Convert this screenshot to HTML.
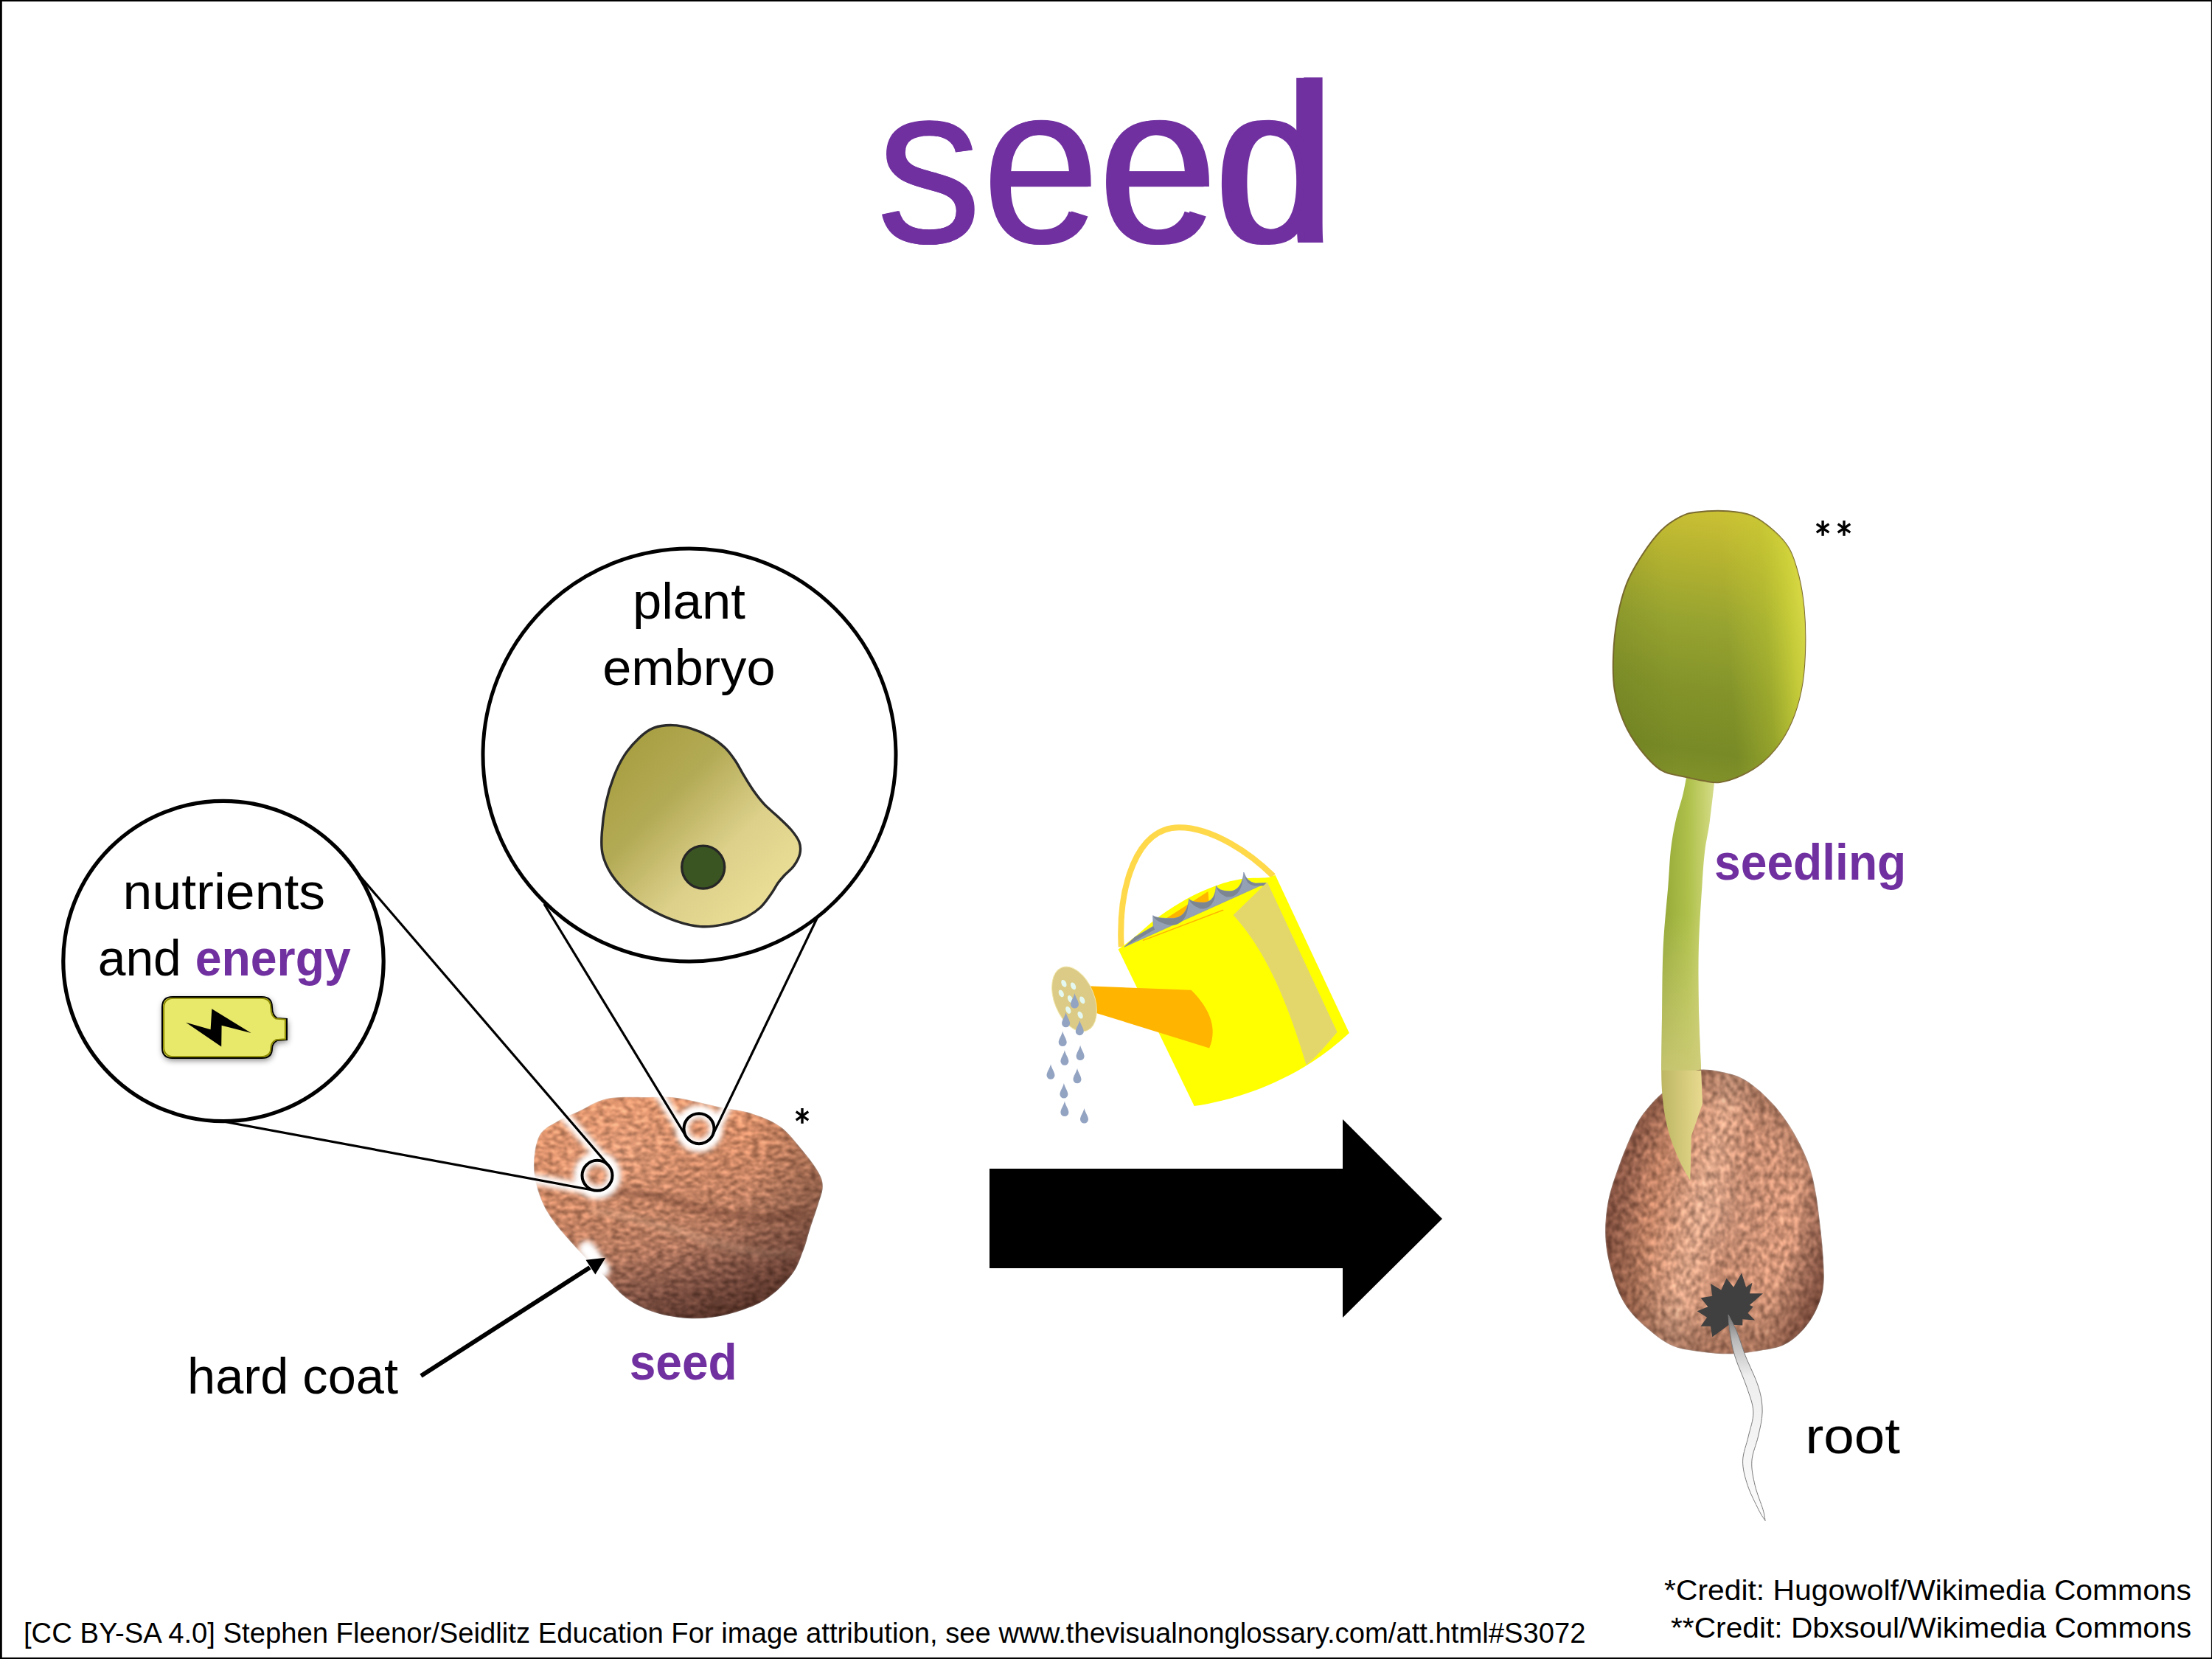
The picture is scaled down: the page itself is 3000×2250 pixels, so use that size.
<!DOCTYPE html>
<html><head><meta charset="utf-8"><title>seed</title>
<style>
html,body{margin:0;padding:0;background:#fff;width:3000px;height:2250px;overflow:hidden}
svg{display:block}
text{font-family:"Liberation Sans",sans-serif}
</style></head><body>
<svg width="3000" height="2250" viewBox="0 0 3000 2250">
<defs>
  <linearGradient id="embG" x1="0" y1="0" x2="1" y2="1">
    <stop offset="0" stop-color="#A39A3A"/>
    <stop offset="0.35" stop-color="#B3AA55"/>
    <stop offset="0.62" stop-color="#DCD08A"/>
    <stop offset="1" stop-color="#F3E59D"/>
  </linearGradient>
  <linearGradient id="seed1G" x1="0.25" y1="0" x2="0.6" y2="1">
    <stop offset="0" stop-color="#D88C64"/>
    <stop offset="0.35" stop-color="#C07C5A"/>
    <stop offset="0.62" stop-color="#A86E54"/>
    <stop offset="0.85" stop-color="#885646"/>
    <stop offset="1" stop-color="#683E32"/>
  </linearGradient>
  <clipPath id="clipS1"><path d="M723.9,1581.4 C723.9,1567.8 726.2,1549.9 731.8,1539.6 C737.5,1529.3 749.1,1525.0 757.7,1519.7 C766.3,1514.4 772.6,1512.8 783.5,1507.8 C794.5,1502.8 807.4,1493.2 823.3,1489.9 C839.2,1486.6 863.1,1488.1 879.0,1487.9 C894.9,1487.7 902.2,1486.6 918.8,1488.9 C935.4,1491.2 961.9,1498.3 978.5,1501.8 C995.1,1505.3 1005.0,1505.5 1018.3,1509.8 C1031.5,1514.1 1046.5,1519.4 1058.1,1527.7 C1069.7,1536.0 1079.3,1549.2 1087.9,1559.5 C1096.5,1569.8 1105.1,1581.1 1109.8,1589.4 C1114.4,1597.6 1115.8,1602.0 1115.8,1609.2 C1115.8,1616.5 1112.8,1623.2 1109.8,1633.1 C1106.8,1643.1 1101.2,1658.6 1097.9,1668.9 C1094.5,1679.2 1093.9,1684.8 1089.9,1694.8 C1085.9,1704.7 1082.6,1717.3 1074.0,1728.6 C1065.4,1739.9 1052.4,1753.5 1038.2,1762.4 C1023.9,1771.4 1005.0,1778.0 988.4,1782.3 C971.9,1786.6 955.3,1788.6 938.7,1788.3 C922.1,1787.9 903.9,1785.0 889.0,1780.3 C874.1,1775.7 860.8,1768.7 849.2,1760.4 C837.6,1752.1 830.3,1741.5 819.4,1730.6 C808.4,1719.7 795.2,1707.4 783.5,1694.8 C771.9,1682.2 758.4,1667.3 749.7,1655.0 C741.1,1642.7 736.1,1633.5 731.8,1621.2 C727.5,1608.9 723.9,1595.0 723.9,1581.4 Z"/></clipPath>
  <filter id="blur4" x="-20%" y="-50%" width="140%" height="200%"><feGaussianBlur stdDeviation="4"/></filter>
  <linearGradient id="seed2G" x1="0" y1="0.3" x2="1" y2="0.6">
    <stop offset="0" stop-color="#865040"/>
    <stop offset="0.25" stop-color="#B07458"/>
    <stop offset="0.45" stop-color="#CC967A"/>
    <stop offset="0.6" stop-color="#B47C62"/>
    <stop offset="0.85" stop-color="#C4886C"/>
    <stop offset="1" stop-color="#9A6450"/>
  </linearGradient>
  <linearGradient id="stemV" gradientUnits="userSpaceOnUse" x1="0" y1="1240" x2="0" y2="1452">
    <stop offset="0" stop-color="#D8D488" stop-opacity="0"/>
    <stop offset="1" stop-color="#D4CC80" stop-opacity="0.75"/>
  </linearGradient>
  <radialGradient id="seed2V" cx="0.52" cy="0.5" r="0.62">
    <stop offset="0" stop-color="#fff" stop-opacity="0.06"/>
    <stop offset="0.55" stop-color="#000" stop-opacity="0"/>
    <stop offset="0.85" stop-color="#3a1a10" stop-opacity="0.32"/>
    <stop offset="1" stop-color="#2a1008" stop-opacity="0.62"/>
  </radialGradient>
  <linearGradient id="leafG" x1="0.5" y1="0" x2="0.4" y2="1">
    <stop offset="0" stop-color="#CAC034"/>
    <stop offset="0.18" stop-color="#B4B230"/>
    <stop offset="0.4" stop-color="#98A430"/>
    <stop offset="0.65" stop-color="#84942A"/>
    <stop offset="0.88" stop-color="#788A26"/>
    <stop offset="1" stop-color="#82922A"/>
  </linearGradient>
  <linearGradient id="leafH" x1="0" y1="0.55" x2="1" y2="0.45">
    <stop offset="0" stop-color="#4A5812" stop-opacity="0.15"/>
    <stop offset="0.3" stop-color="#4A5812" stop-opacity="0"/>
    <stop offset="0.6" stop-color="#C8D034" stop-opacity="0"/>
    <stop offset="0.8" stop-color="#C8D034" stop-opacity="0.35"/>
    <stop offset="0.93" stop-color="#D4D83C" stop-opacity="0.75"/>
    <stop offset="1" stop-color="#E0E048" stop-opacity="0.85"/>
  </linearGradient>
  <radialGradient id="seed1V" cx="0.3" cy="0.25" r="0.85">
    <stop offset="0" stop-color="#fff" stop-opacity="0.08"/>
    <stop offset="0.55" stop-color="#000" stop-opacity="0"/>
    <stop offset="1" stop-color="#2a1008" stop-opacity="0.4"/>
  </radialGradient>
  <linearGradient id="stemG" x1="0" y1="0" x2="1" y2="0">
    <stop offset="0" stop-color="#94A838"/>
    <stop offset="0.5" stop-color="#AEC04A"/>
    <stop offset="0.85" stop-color="#CAD474"/>
    <stop offset="1" stop-color="#D6DC8C"/>
  </linearGradient>
  <linearGradient id="lowG" x1="0" y1="0" x2="1" y2="0">
    <stop offset="0" stop-color="#BDB662"/>
    <stop offset="1" stop-color="#E8DA90"/>
  </linearGradient>
  <linearGradient id="rootG" x1="0" y1="0" x2="0" y2="1">
    <stop offset="0" stop-color="#707070"/>
    <stop offset="0.12" stop-color="#B8B8B8"/>
    <stop offset="0.3" stop-color="#EEEEEE"/>
    <stop offset="1" stop-color="#FCFCFC"/>
  </linearGradient>
  <filter id="tex1" x="0" y="0" width="100%" height="100%" color-interpolation-filters="sRGB">
    <feTurbulence type="fractalNoise" baseFrequency="0.1 0.17" numOctaves="3" seed="11" result="n"/>
    <feColorMatrix in="n" type="matrix" values="1 0 0 0 0  1 0 0 0 0  1 0 0 0 0  0 0 0 0 1" result="g"/>
    <feComponentTransfer in="g" result="g2"><feFuncR type="linear" slope="1.6" intercept="-0.3"/><feFuncG type="linear" slope="1.6" intercept="-0.3"/><feFuncB type="linear" slope="1.6" intercept="-0.3"/></feComponentTransfer>
    <feComposite in="SourceGraphic" in2="g2" operator="arithmetic" k1="0.5" k2="0.8" k3="0.1" k4="-0.02" result="m"/>
    <feGaussianBlur in="m" stdDeviation="1.1" result="mb"/>
    <feComposite in="mb" in2="SourceAlpha" operator="in"/>
  </filter>
  <filter id="tex2" x="0" y="0" width="100%" height="100%" color-interpolation-filters="sRGB">
    <feTurbulence type="fractalNoise" baseFrequency="0.15 0.1" numOctaves="3" seed="5" result="n"/>
    <feColorMatrix in="n" type="matrix" values="1 0 0 0 0  1 0 0 0 0  1 0 0 0 0  0 0 0 0 1" result="g"/>
    <feComponentTransfer in="g" result="g2"><feFuncR type="linear" slope="1.6" intercept="-0.3"/><feFuncG type="linear" slope="1.6" intercept="-0.3"/><feFuncB type="linear" slope="1.6" intercept="-0.3"/></feComponentTransfer>
    <feComposite in="SourceGraphic" in2="g2" operator="arithmetic" k1="0.5" k2="0.8" k3="0.1" k4="-0.02" result="m"/>
    <feGaussianBlur in="m" stdDeviation="1.1" result="mb"/>
    <feComposite in="mb" in2="SourceAlpha" operator="in"/>
  </filter>
  <filter id="glow" x="-20%" y="-20%" width="140%" height="140%"><feGaussianBlur stdDeviation="3.5"/></filter>
  <filter id="shadow" x="-30%" y="-50%" width="160%" height="200%"><feGaussianBlur stdDeviation="4"/></filter>
  <filter id="soft" x="-5%" y="-5%" width="110%" height="110%"><feGaussianBlur stdDeviation="0.7"/></filter>
</defs>
<rect x="0" y="0" width="3000" height="2250" fill="#fff"/>

<!-- TITLE -->
<text x="1190" y="329" font-size="308" fill="#7030A0" textLength="612" lengthAdjust="spacingAndGlyphs">seed</text>

<!-- BIG ARROW -->
<polygon points="1342,1585 1821,1585 1821,1518 1956,1653 1821,1787 1821,1720 1342,1720" fill="#000"/>

<!-- WATERING CAN -->
<g>
  <path d="M1520.7,1284.4 C1516.6,1203.1 1541.0,1121.7 1599.4,1122.2 C1644.1,1122.2 1695.7,1157.0 1726.9,1188.2" fill="none" stroke="#FFD94A" stroke-width="8"/>
  <path d="M1516.6,1287.2 L1729.6,1186.8 L1829.9,1401.1 C1766.2,1460.8 1684.8,1490.6 1619.7,1500.1 Z" fill="#FFFF00"/>
  <path d="M1516.2,1288.5 C1520.4,1285.2 1531.8,1276.4 1541.2,1268.8 C1550.6,1261.2 1560.3,1251.5 1572.4,1242.8 C1584.5,1234.1 1600.1,1224.1 1614.0,1216.8 C1627.8,1209.5 1643.4,1203.3 1655.6,1199.1 C1667.7,1195.0 1676.4,1193.3 1686.8,1191.8 C1697.2,1190.4 1711.2,1191.0 1718.0,1190.3 C1724.7,1189.6 1725.8,1188.1 1727.3,1187.7 L1718.0,1197.6 L1524.6,1284.4 Z" fill="#FFFF00"/>
  <path d="M1581.7,1245.4 L1638.4,1209.0 1639.5,1222.5 1603.6,1242.8 1582.8,1249.0 Z M1549.5,1275.0 L1658.7,1233.6 1659.7,1234.7 1550.6,1276.1 Z" fill="#FFB400"/>
  <path d="M1524.6,1284.4 L1539.1,1270.9 1564.1,1256.3 1563.6,1241.7 Q1568.2,1245.9 1591.1,1245.4 C1603.6,1244.9 1611.4,1234.5 1612.4,1218.9 Q1616.1,1224.1 1631.7,1224.1 C1644.1,1224.1 1648.8,1213.7 1649.3,1201.2 Q1652.5,1208.5 1667.0,1208.7 C1679.5,1209.0 1685.7,1197.0 1686.8,1183.0 Q1690.9,1196.0 1702.4,1197.9 L1717.4,1197.6 L1524.6,1284.4 Z" fill="#94A1B5" stroke="#7F8FB8" stroke-width="0.6"/>
  <path d="M1563.6,1241.7 L1564.5,1242.4 L1565.6,1243.0 L1567.0,1243.5 L1568.7,1244.0 L1570.6,1244.4 L1572.8,1244.7 L1575.2,1245.0 L1577.9,1245.2 L1580.8,1245.4 L1584.0,1245.4 L1587.4,1245.4 L1591.1,1245.4 L1594.1,1245.1 L1596.9,1244.3 L1599.6,1243.2 L1601.9,1241.7 L1604.1,1239.9 L1606.1,1237.8 L1607.8,1235.3 L1609.2,1232.6 L1610.4,1229.5 L1611.3,1226.2 L1612.0,1222.7 L1612.4,1218.9 L1611.4,1228.2 L1611.0,1232.0 L1610.3,1235.6 L1609.4,1238.9 L1608.2,1241.9 L1606.7,1244.7 L1605.0,1247.1 L1603.1,1249.3 L1600.9,1251.1 L1598.5,1252.6 L1595.9,1253.7 L1593.1,1254.4 L1590.1,1254.7 L1586.4,1254.8 L1583.0,1254.0 L1579.9,1253.1 L1577.1,1252.1 L1574.5,1251.0 L1572.2,1249.9 L1570.1,1248.7 L1568.3,1247.4 L1566.7,1246.1 L1565.4,1244.7 L1564.4,1243.3 L1563.6,1241.7 Z M1612.4,1218.9 L1613.1,1219.7 L1614.0,1220.5 L1615.0,1221.1 L1616.2,1221.8 L1617.5,1222.3 L1619.1,1222.8 L1620.7,1223.2 L1622.6,1223.5 L1624.6,1223.7 L1626.8,1223.9 L1629.1,1224.0 L1631.7,1224.1 L1634.6,1223.9 L1637.3,1223.2 L1639.6,1222.3 L1641.7,1220.9 L1643.5,1219.3 L1645.0,1217.3 L1646.3,1215.1 L1647.3,1212.7 L1648.1,1210.0 L1648.7,1207.2 L1649.1,1204.3 L1649.3,1201.2 L1648.3,1209.5 L1648.1,1212.6 L1647.7,1215.5 L1647.1,1218.4 L1646.3,1221.0 L1645.2,1223.4 L1643.9,1225.6 L1642.4,1227.6 L1640.6,1229.2 L1638.6,1230.6 L1636.2,1231.6 L1633.6,1232.2 L1630.6,1232.4 L1628.1,1232.4 L1625.8,1231.6 L1623.8,1230.6 L1621.8,1229.6 L1620.1,1228.5 L1618.5,1227.3 L1617.1,1226.1 L1615.8,1224.8 L1614.7,1223.4 L1613.8,1222.0 L1613.0,1220.5 L1612.4,1218.9 Z M1649.3,1201.2 L1649.9,1202.4 L1650.7,1203.4 L1651.6,1204.4 L1652.7,1205.3 L1653.9,1206.0 L1655.3,1206.7 L1656.9,1207.3 L1658.6,1207.8 L1660.4,1208.1 L1662.5,1208.4 L1664.7,1208.6 L1667.0,1208.7 L1670.0,1208.5 L1672.7,1207.9 L1675.2,1206.8 L1677.5,1205.3 L1679.4,1203.4 L1681.2,1201.2 L1682.7,1198.7 L1684.0,1196.0 L1685.0,1193.0 L1685.8,1189.8 L1686.4,1186.5 L1686.8,1183.0 L1685.7,1190.8 L1685.4,1194.3 L1684.8,1197.6 L1684.0,1200.8 L1682.9,1203.8 L1681.6,1206.5 L1680.1,1209.0 L1678.4,1211.2 L1676.4,1213.1 L1674.2,1214.6 L1671.7,1215.7 L1669.0,1216.3 L1666.0,1216.5 L1663.6,1216.4 L1661.5,1215.6 L1659.6,1214.6 L1657.8,1213.5 L1656.2,1212.3 L1654.7,1211.0 L1653.4,1209.6 L1652.3,1208.1 L1651.3,1206.5 L1650.5,1204.9 L1649.8,1203.1 L1649.3,1201.2 Z M1686.8,1183.0 L1687.5,1185.1 L1688.4,1187.0 L1689.3,1188.8 L1690.4,1190.4 L1691.5,1191.9 L1692.7,1193.2 L1694.1,1194.4 L1695.6,1195.4 L1697.1,1196.2 L1698.8,1196.9 L1700.5,1197.5 L1702.4,1197.9 L1717.4,1197.6 L1716.9,1201.2 L1701.8,1201.5 L1700.0,1201.1 L1698.2,1200.6 L1696.6,1199.9 L1695.0,1199.0 L1693.6,1198.0 L1692.2,1196.9 L1691.1,1195.0 L1690.0,1192.9 L1689.0,1190.6 L1688.2,1188.3 L1687.4,1185.7 L1686.8,1183.0 Z M1524.6,1284.4 L1539.1,1270.9 1564.1,1256.3 1566.2,1260.5 1541.2,1275.0 Z" fill="#7C8592"/>
  <path d="M1672.6,1241.0 L1718.7,1196.3 L1813.6,1399.7 C1798.7,1417.4 1785.2,1433.6 1771.6,1444.5 C1741.8,1344.1 1711.9,1284.4 1672.6,1241.0 Z" fill="#E3D76C"/>
  <path d="M1474.6,1337.3 L1615.6,1342.8 C1638.7,1365.8 1652.3,1392.9 1640.1,1421.4 L1486.8,1374.0 Z" fill="#FFB400"/>
  <ellipse cx="1457.0" cy="1355.0" rx="27" ry="46" transform="rotate(-22 1457.0 1355.0)" fill="#DCCB86" stroke="#F0E6A8" stroke-width="1"/>
  <g fill="#E4F8F2"><ellipse cx="1442.9" cy="1333.8" rx="3.2" ry="5.2" transform="rotate(-25 1442.9 1333.8)"/><ellipse cx="1455.6" cy="1337.3" rx="3.2" ry="5.2" transform="rotate(-25 1455.6 1337.3)"/><ellipse cx="1439.3" cy="1347.4" rx="3.2" ry="5.2" transform="rotate(-25 1439.3 1347.4)"/><ellipse cx="1451.5" cy="1355.0" rx="3.2" ry="5.2" transform="rotate(-25 1451.5 1355.0)"/><ellipse cx="1467.8" cy="1356.3" rx="3.2" ry="5.2" transform="rotate(-25 1467.8 1356.3)"/><ellipse cx="1448.8" cy="1369.9" rx="3.2" ry="5.2" transform="rotate(-25 1448.8 1369.9)"/><ellipse cx="1465.1" cy="1376.7" rx="3.2" ry="5.2" transform="rotate(-25 1465.1 1376.7)"/></g>
  <g fill="#93A3C2"><path d="M1457.5,1347.0 C1458.5,1352.0 1463.0,1358.0 1463.0,1362.0 A5.5,5.5 0 1 1 1452.0,1362.0 C1452.0,1358.0 1456.5,1352.0 1457.5,1347.0 Z"/><path d="M1445.6,1372.8 C1446.6,1377.8 1451.1,1383.8 1451.1,1387.8 A5.5,5.5 0 1 1 1440.1,1387.8 C1440.1,1383.8 1444.6,1377.8 1445.6,1372.8 Z"/><path d="M1464.3,1383.7 C1465.3,1388.7 1469.8,1394.7 1469.8,1398.7 A5.5,5.5 0 1 1 1458.8,1398.7 C1458.8,1394.7 1463.3,1388.7 1464.3,1383.7 Z"/><path d="M1441.2,1398.6 C1442.2,1403.6 1446.7,1409.6 1446.7,1413.6 A5.5,5.5 0 1 1 1435.7,1413.6 C1435.7,1409.6 1440.2,1403.6 1441.2,1398.6 Z"/><path d="M1465.1,1417.6 C1466.1,1422.6 1470.6,1428.6 1470.6,1432.6 A5.5,5.5 0 1 1 1459.6,1432.6 C1459.6,1428.6 1464.1,1422.6 1465.1,1417.6 Z"/><path d="M1443.9,1424.3 C1444.9,1429.3 1449.4,1435.3 1449.4,1439.3 A5.5,5.5 0 1 1 1438.4,1439.3 C1438.4,1435.3 1442.9,1429.3 1443.9,1424.3 Z"/><path d="M1425.0,1443.3 C1426.0,1448.3 1430.5,1454.3 1430.5,1458.3 A5.5,5.5 0 1 1 1419.5,1458.3 C1419.5,1454.3 1424.0,1448.3 1425.0,1443.3 Z"/><path d="M1461.0,1448.8 C1462.0,1453.8 1466.5,1459.8 1466.5,1463.8 A5.5,5.5 0 1 1 1455.5,1463.8 C1455.5,1459.8 1460.0,1453.8 1461.0,1448.8 Z"/><path d="M1442.9,1469.1 C1443.9,1474.1 1448.4,1480.1 1448.4,1484.1 A5.5,5.5 0 1 1 1437.4,1484.1 C1437.4,1480.1 1441.9,1474.1 1442.9,1469.1 Z"/><path d="M1443.9,1493.5 C1444.9,1498.5 1449.4,1504.5 1449.4,1508.5 A5.5,5.5 0 1 1 1438.4,1508.5 C1438.4,1504.5 1442.9,1498.5 1443.9,1493.5 Z"/><path d="M1470.5,1503.0 C1471.5,1508.0 1476.0,1514.0 1476.0,1518.0 A5.5,5.5 0 1 1 1465.0,1518.0 C1465.0,1514.0 1469.5,1508.0 1470.5,1503.0 Z"/></g>
</g>

<!-- SEED 1 -->
<g filter="url(#soft)">
  <path d="M723.9,1581.4 C723.9,1567.8 726.2,1549.9 731.8,1539.6 C737.5,1529.3 749.1,1525.0 757.7,1519.7 C766.3,1514.4 772.6,1512.8 783.5,1507.8 C794.5,1502.8 807.4,1493.2 823.3,1489.9 C839.2,1486.6 863.1,1488.1 879.0,1487.9 C894.9,1487.7 902.2,1486.6 918.8,1488.9 C935.4,1491.2 961.9,1498.3 978.5,1501.8 C995.1,1505.3 1005.0,1505.5 1018.3,1509.8 C1031.5,1514.1 1046.5,1519.4 1058.1,1527.7 C1069.7,1536.0 1079.3,1549.2 1087.9,1559.5 C1096.5,1569.8 1105.1,1581.1 1109.8,1589.4 C1114.4,1597.6 1115.8,1602.0 1115.8,1609.2 C1115.8,1616.5 1112.8,1623.2 1109.8,1633.1 C1106.8,1643.1 1101.2,1658.6 1097.9,1668.9 C1094.5,1679.2 1093.9,1684.8 1089.9,1694.8 C1085.9,1704.7 1082.6,1717.3 1074.0,1728.6 C1065.4,1739.9 1052.4,1753.5 1038.2,1762.4 C1023.9,1771.4 1005.0,1778.0 988.4,1782.3 C971.9,1786.6 955.3,1788.6 938.7,1788.3 C922.1,1787.9 903.9,1785.0 889.0,1780.3 C874.1,1775.7 860.8,1768.7 849.2,1760.4 C837.6,1752.1 830.3,1741.5 819.4,1730.6 C808.4,1719.7 795.2,1707.4 783.5,1694.8 C771.9,1682.2 758.4,1667.3 749.7,1655.0 C741.1,1642.7 736.1,1633.5 731.8,1621.2 C727.5,1608.9 723.9,1595.0 723.9,1581.4 Z" fill="url(#seed1G)" filter="url(#tex1)"/>
  <g clip-path="url(#clipS1)">
    <path d="M812,1618 C850,1615 900,1622 930,1634 C975,1650 1030,1655 1090,1646" fill="none" stroke="#5A2E20" stroke-width="9" opacity="0.45" filter="url(#blur4)"/>
    <path d="M800,1640 C850,1650 900,1662 940,1676 C980,1690 1030,1705 1080,1700" fill="none" stroke="#F4D0B0" stroke-width="10" opacity="0.2" filter="url(#blur4)"/>
  </g>
  <path d="M723.9,1581.4 C723.9,1567.8 726.2,1549.9 731.8,1539.6 C737.5,1529.3 749.1,1525.0 757.7,1519.7 C766.3,1514.4 772.6,1512.8 783.5,1507.8 C794.5,1502.8 807.4,1493.2 823.3,1489.9 C839.2,1486.6 863.1,1488.1 879.0,1487.9 C894.9,1487.7 902.2,1486.6 918.8,1488.9 C935.4,1491.2 961.9,1498.3 978.5,1501.8 C995.1,1505.3 1005.0,1505.5 1018.3,1509.8 C1031.5,1514.1 1046.5,1519.4 1058.1,1527.7 C1069.7,1536.0 1079.3,1549.2 1087.9,1559.5 C1096.5,1569.8 1105.1,1581.1 1109.8,1589.4 C1114.4,1597.6 1115.8,1602.0 1115.8,1609.2 C1115.8,1616.5 1112.8,1623.2 1109.8,1633.1 C1106.8,1643.1 1101.2,1658.6 1097.9,1668.9 C1094.5,1679.2 1093.9,1684.8 1089.9,1694.8 C1085.9,1704.7 1082.6,1717.3 1074.0,1728.6 C1065.4,1739.9 1052.4,1753.5 1038.2,1762.4 C1023.9,1771.4 1005.0,1778.0 988.4,1782.3 C971.9,1786.6 955.3,1788.6 938.7,1788.3 C922.1,1787.9 903.9,1785.0 889.0,1780.3 C874.1,1775.7 860.8,1768.7 849.2,1760.4 C837.6,1752.1 830.3,1741.5 819.4,1730.6 C808.4,1719.7 795.2,1707.4 783.5,1694.8 C771.9,1682.2 758.4,1667.3 749.7,1655.0 C741.1,1642.7 736.1,1633.5 731.8,1621.2 C727.5,1608.9 723.9,1595.0 723.9,1581.4 Z" fill="url(#seed1V)"/>
</g>

<!-- SEEDLING -->
<path d="M2287.3,1052.9 C2286.5,1057.0 2284.9,1067.5 2282.4,1077.7 C2279.9,1087.9 2275.2,1101.5 2272.4,1114.2 C2269.6,1126.9 2267.5,1139.7 2265.8,1154.0 C2264.2,1168.3 2264.2,1178.6 2262.5,1200.0 C2260.8,1221.4 2257.2,1255.0 2255.8,1282.6 C2254.4,1310.2 2254.6,1337.3 2254.2,1365.5 C2253.8,1393.7 2253.4,1437.6 2253.2,1452.0 L2307.2,1452.0 C2306.6,1437.6 2304.4,1393.7 2303.9,1365.5 C2303.4,1337.3 2303.1,1310.2 2303.9,1282.6 C2304.7,1255.0 2307.1,1221.4 2308.5,1200.0 C2309.9,1178.6 2310.5,1168.3 2312.2,1154.0 C2313.9,1139.7 2316.6,1130.2 2318.8,1114.2 C2321.0,1098.2 2324.4,1067.2 2325.5,1057.8 Z" fill="url(#stemG)"/>
<path d="M2287.3,1052.9 C2286.5,1057.0 2284.9,1067.5 2282.4,1077.7 C2279.9,1087.9 2275.2,1101.5 2272.4,1114.2 C2269.6,1126.9 2267.5,1139.7 2265.8,1154.0 C2264.2,1168.3 2264.2,1178.6 2262.5,1200.0 C2260.8,1221.4 2257.2,1255.0 2255.8,1282.6 C2254.4,1310.2 2254.6,1337.3 2254.2,1365.5 C2253.8,1393.7 2253.4,1437.6 2253.2,1452.0 L2307.2,1452.0 C2306.6,1437.6 2304.4,1393.7 2303.9,1365.5 C2303.4,1337.3 2303.1,1310.2 2303.9,1282.6 C2304.7,1255.0 2307.1,1221.4 2308.5,1200.0 C2309.9,1178.6 2310.5,1168.3 2312.2,1154.0 C2313.9,1139.7 2316.6,1130.2 2318.8,1114.2 C2321.0,1098.2 2324.4,1067.2 2325.5,1057.8 Z" fill="url(#stemV)"/>
<path d="M2300.1,694.7 C2310.9,693.4 2330.8,692.5 2343.5,693.3 C2356.1,694.1 2365.8,695.1 2376.0,699.4 C2386.2,703.8 2396.5,711.8 2404.9,719.3 C2413.4,726.8 2420.9,734.4 2426.6,744.6 C2432.3,754.9 2435.9,767.5 2439.3,780.8 C2442.6,794.0 2445.0,808.5 2446.5,824.2 C2448.0,839.8 2448.6,857.9 2448.3,874.8 C2448.0,891.6 2447.1,909.7 2444.7,925.4 C2442.3,941.0 2438.7,955.5 2433.8,968.8 C2429.0,982.0 2423.0,994.1 2415.8,1004.9 C2408.5,1015.8 2399.5,1026.0 2390.5,1033.8 C2381.4,1041.7 2371.2,1047.4 2361.5,1051.9 C2351.9,1056.4 2341.0,1059.7 2332.6,1061.0 C2324.2,1062.2 2318.8,1060.4 2310.9,1059.1 C2303.1,1057.9 2295.3,1056.1 2285.6,1053.7 C2276.0,1051.3 2263.3,1051.0 2253.1,1044.7 C2242.8,1038.4 2232.6,1026.6 2224.2,1015.8 C2215.7,1004.9 2208.2,992.9 2202.5,979.6 C2196.7,966.4 2192.2,951.3 2189.8,936.2 C2187.4,921.2 2187.4,905.5 2188.0,889.2 C2188.6,873.0 2190.4,854.9 2193.4,838.6 C2196.4,822.3 2200.3,806.1 2206.1,791.6 C2211.8,777.2 2219.9,763.9 2227.8,751.8 C2235.6,739.8 2244.6,727.7 2253.1,719.3 C2261.5,710.9 2270.5,705.3 2278.4,701.2 C2286.2,697.1 2289.2,696.0 2300.1,694.7 Z" fill="url(#leafG)" stroke="#7A6A30" stroke-width="2"/>
<path d="M2300.1,694.7 C2310.9,693.4 2330.8,692.5 2343.5,693.3 C2356.1,694.1 2365.8,695.1 2376.0,699.4 C2386.2,703.8 2396.5,711.8 2404.9,719.3 C2413.4,726.8 2420.9,734.4 2426.6,744.6 C2432.3,754.9 2435.9,767.5 2439.3,780.8 C2442.6,794.0 2445.0,808.5 2446.5,824.2 C2448.0,839.8 2448.6,857.9 2448.3,874.8 C2448.0,891.6 2447.1,909.7 2444.7,925.4 C2442.3,941.0 2438.7,955.5 2433.8,968.8 C2429.0,982.0 2423.0,994.1 2415.8,1004.9 C2408.5,1015.8 2399.5,1026.0 2390.5,1033.8 C2381.4,1041.7 2371.2,1047.4 2361.5,1051.9 C2351.9,1056.4 2341.0,1059.7 2332.6,1061.0 C2324.2,1062.2 2318.8,1060.4 2310.9,1059.1 C2303.1,1057.9 2295.3,1056.1 2285.6,1053.7 C2276.0,1051.3 2263.3,1051.0 2253.1,1044.7 C2242.8,1038.4 2232.6,1026.6 2224.2,1015.8 C2215.7,1004.9 2208.2,992.9 2202.5,979.6 C2196.7,966.4 2192.2,951.3 2189.8,936.2 C2187.4,921.2 2187.4,905.5 2188.0,889.2 C2188.6,873.0 2190.4,854.9 2193.4,838.6 C2196.4,822.3 2200.3,806.1 2206.1,791.6 C2211.8,777.2 2219.9,763.9 2227.8,751.8 C2235.6,739.8 2244.6,727.7 2253.1,719.3 C2261.5,710.9 2270.5,705.3 2278.4,701.2 C2286.2,697.1 2289.2,696.0 2300.1,694.7 Z" fill="url(#leafH)"/>
<g filter="url(#soft)">
  <path d="M2309.1,1450.5 C2320.2,1450.1 2337.8,1453.8 2348.9,1457.1 C2359.9,1460.4 2366.6,1464.2 2375.4,1470.4 C2384.2,1476.6 2394.0,1485.9 2401.9,1494.3 C2409.9,1502.6 2416.5,1511.0 2423.1,1520.8 C2429.8,1530.5 2436.4,1542.0 2441.7,1552.6 C2447.0,1563.2 2451.4,1573.4 2455.0,1584.4 C2458.5,1595.5 2460.7,1606.5 2462.9,1618.9 C2465.1,1631.3 2466.7,1645.4 2468.2,1658.7 C2469.8,1671.9 2471.3,1685.2 2472.2,1698.4 C2473.1,1711.7 2474.2,1727.2 2473.5,1738.2 C2472.9,1749.3 2471.3,1755.9 2468.2,1764.7 C2465.1,1773.6 2460.3,1783.3 2455.0,1791.3 C2449.7,1799.2 2443.0,1806.7 2436.4,1812.5 C2429.8,1818.2 2424.0,1822.4 2415.2,1825.7 C2406.3,1829.0 2394.4,1830.6 2383.4,1832.4 C2372.3,1834.1 2361.3,1836.1 2348.9,1836.3 C2336.5,1836.6 2322.4,1835.5 2309.1,1833.7 C2295.8,1831.9 2281.3,1830.6 2269.3,1825.7 C2257.4,1820.9 2247.7,1812.9 2237.5,1804.5 C2227.3,1796.1 2216.3,1786.4 2208.3,1775.3 C2200.4,1764.3 2194.9,1753.2 2189.8,1738.2 C2184.7,1723.2 2179.4,1702.9 2177.8,1685.2 C2176.3,1667.5 2177.4,1649.8 2180.5,1632.1 C2183.6,1614.5 2190.0,1596.8 2196.4,1579.1 C2202.8,1561.4 2212.1,1539.3 2218.9,1526.1 C2225.8,1512.8 2231.3,1507.1 2237.5,1499.6 C2243.7,1492.0 2248.6,1487.6 2256.1,1481.0 C2263.6,1474.4 2273.8,1464.9 2282.6,1459.8 C2291.4,1454.7 2298.1,1450.9 2309.1,1450.5 Z" fill="url(#seed2G)" filter="url(#tex2)"/>
  <path d="M2309.1,1450.5 C2320.2,1450.1 2337.8,1453.8 2348.9,1457.1 C2359.9,1460.4 2366.6,1464.2 2375.4,1470.4 C2384.2,1476.6 2394.0,1485.9 2401.9,1494.3 C2409.9,1502.6 2416.5,1511.0 2423.1,1520.8 C2429.8,1530.5 2436.4,1542.0 2441.7,1552.6 C2447.0,1563.2 2451.4,1573.4 2455.0,1584.4 C2458.5,1595.5 2460.7,1606.5 2462.9,1618.9 C2465.1,1631.3 2466.7,1645.4 2468.2,1658.7 C2469.8,1671.9 2471.3,1685.2 2472.2,1698.4 C2473.1,1711.7 2474.2,1727.2 2473.5,1738.2 C2472.9,1749.3 2471.3,1755.9 2468.2,1764.7 C2465.1,1773.6 2460.3,1783.3 2455.0,1791.3 C2449.7,1799.2 2443.0,1806.7 2436.4,1812.5 C2429.8,1818.2 2424.0,1822.4 2415.2,1825.7 C2406.3,1829.0 2394.4,1830.6 2383.4,1832.4 C2372.3,1834.1 2361.3,1836.1 2348.9,1836.3 C2336.5,1836.6 2322.4,1835.5 2309.1,1833.7 C2295.8,1831.9 2281.3,1830.6 2269.3,1825.7 C2257.4,1820.9 2247.7,1812.9 2237.5,1804.5 C2227.3,1796.1 2216.3,1786.4 2208.3,1775.3 C2200.4,1764.3 2194.9,1753.2 2189.8,1738.2 C2184.7,1723.2 2179.4,1702.9 2177.8,1685.2 C2176.3,1667.5 2177.4,1649.8 2180.5,1632.1 C2183.6,1614.5 2190.0,1596.8 2196.4,1579.1 C2202.8,1561.4 2212.1,1539.3 2218.9,1526.1 C2225.8,1512.8 2231.3,1507.1 2237.5,1499.6 C2243.7,1492.0 2248.6,1487.6 2256.1,1481.0 C2263.6,1474.4 2273.8,1464.9 2282.6,1459.8 C2291.4,1454.7 2298.1,1450.9 2309.1,1450.5 Z" fill="url(#seed2V)"/>
</g>
<path d="M2253.2,1451.7 C2253,1480 2256,1515 2266,1545 C2274,1568 2284,1588 2292.3,1601 L2294,1540 L2309,1497 L2307.2,1451.7 Z" fill="url(#lowG)"/>
<path d="M2362.0,1726.5 L2368.1,1745.8 L2376.5,1739.8 L2372.9,1754.2 L2391.0,1754.2 L2372.9,1769.9 L2377.7,1772.3 L2370.5,1780.7 L2380.1,1790.4 L2363.3,1789.2 L2363.3,1797.6 L2345.2,1796.4 L2322.3,1813.3 L2319.9,1798.8 L2306.6,1798.8 L2315.1,1786.7 L2301.8,1778.3 L2316.3,1772.3 L2306.6,1760.2 L2322.3,1757.8 L2319.9,1741.0 L2334.3,1749.4 L2341.6,1733.7 L2351.2,1745.8 Z" fill="#404040"/>
<path d="M2344.0,1783.0 C2344.4,1786.8 2344.6,1796.3 2346.0,1805.6 C2347.5,1814.9 2348.8,1826.0 2352.7,1838.7 C2356.5,1851.4 2365.0,1869.1 2369.2,1881.8 C2373.4,1894.5 2377.5,1903.9 2377.9,1915.0 C2378.2,1926.0 2373.6,1937.1 2371.2,1948.1 C2368.8,1959.2 2363.8,1970.2 2363.6,1981.3 C2363.4,1992.4 2366.6,2003.4 2370.2,2014.5 C2373.8,2025.5 2381.2,2039.6 2385.1,2047.6 C2389.1,2055.6 2392.6,2060.0 2394.1,2062.5 L2394.1,2062.5 C2393.6,2060.0 2393.4,2055.6 2391.1,2047.6 C2388.8,2039.6 2382.7,2025.5 2380.2,2014.5 C2377.6,2003.4 2375.1,1992.4 2375.9,1981.3 C2376.6,1970.2 2382.1,1959.2 2384.5,1948.1 C2386.9,1937.1 2390.0,1926.0 2390.1,1915.0 C2390.2,1903.9 2389.0,1894.5 2385.1,1881.8 C2381.3,1869.1 2372.2,1851.4 2367.2,1838.7 C2362.3,1826.0 2359.2,1814.9 2355.3,1805.6 C2351.4,1796.3 2345.9,1786.8 2344.0,1783.0 Z" fill="url(#rootG)" stroke="#7A7A7A" stroke-width="1"/>

<!-- CIRCLES & LINES -->
<g fill="none" stroke="#fff" stroke-width="14" filter="url(#glow)" stroke-linecap="round">
  <path d="M712 1597 L806.3 1614.5"/>
  <path d="M745 1490 L825.5 1580.9"/>
  <path d="M880 1460 L930.5 1541.4"/>
  <path d="M1000 1470 L966.5 1539.6"/>
  <circle cx="810" cy="1594.3" r="23" stroke-width="18"/>
  <circle cx="948" cy="1530.7" r="23" stroke-width="18"/>
  <path d="M796 1694 L816 1722" stroke-width="22"/>
</g>
<g fill="none" stroke="#000">
  <circle cx="303" cy="1303.5" r="217.2" stroke-width="5.2" fill="#fff"/>
  <circle cx="935" cy="1024" r="280" stroke-width="5" fill="#fff"/>
  <path d="M303 1521 L806.3 1614.5" stroke-width="3.2"/>
  <path d="M487.3 1187.3 L825.5 1580.9" stroke-width="3.2"/>
  <path d="M738 1225.9 L930.5 1541.4" stroke-width="3.2"/>
  <path d="M1107.9 1245.8 L966.5 1539.6" stroke-width="3.2"/>
  <circle cx="810" cy="1594.3" r="20.5" stroke-width="4"/>
  <circle cx="948" cy="1530.7" r="20.5" stroke-width="4"/>
  <path d="M571 1866 L800 1719" stroke-width="6"/>
</g>
<path d="M821.3,1705.7 L794.5,1708.7 L807.4,1728.6 Z" fill="#000"/>

<!-- EMBRYO -->
<path d="M912.1,983.6 C920.6,983.7 929.0,985.5 937.4,988.1 C945.9,990.6 955.2,994.7 962.7,998.9 C970.3,1003.2 976.9,1008.0 982.6,1013.4 C988.4,1018.8 992.6,1024.9 997.1,1031.5 C1001.6,1038.1 1005.5,1046.3 1009.8,1053.2 C1014.0,1060.1 1017.9,1066.7 1022.4,1073.1 C1026.9,1079.4 1031.2,1085.1 1036.9,1091.2 C1042.6,1097.2 1050.8,1103.5 1056.8,1109.2 C1062.8,1115.0 1068.5,1120.1 1073.1,1125.5 C1077.6,1130.9 1081.9,1136.4 1083.9,1141.8 C1085.9,1147.2 1086.0,1152.6 1084.8,1158.1 C1083.6,1163.5 1080.1,1169.5 1076.7,1174.3 C1073.2,1179.2 1067.6,1183.1 1064.0,1187.0 C1060.4,1190.9 1058.0,1193.6 1055.0,1197.8 C1052.0,1202.1 1049.8,1206.9 1045.9,1212.3 C1042.0,1217.7 1037.5,1225.0 1031.5,1230.4 C1025.4,1235.8 1018.2,1240.9 1009.8,1244.9 C1001.3,1248.8 990.8,1251.9 980.8,1253.9 C970.9,1255.9 960.6,1257.4 950.1,1256.6 C939.5,1255.9 928.7,1253.2 917.5,1249.4 C906.4,1245.6 894.0,1240.2 883.2,1234.0 C872.3,1227.8 861.5,1220.5 852.4,1212.3 C843.4,1204.2 834.8,1194.2 828.9,1185.2 C823.1,1176.1 819.3,1167.4 817.2,1158.1 C815.1,1148.7 815.5,1140.6 816.3,1129.1 C817.0,1117.7 819.0,1102.0 821.7,1089.3 C824.4,1076.7 828.3,1064.0 832.5,1053.2 C836.8,1042.3 841.3,1033.0 847.0,1024.2 C852.7,1015.5 860.3,1006.9 866.9,1000.7 C873.5,994.6 879.3,990.0 886.8,987.2 C894.3,984.3 903.7,983.4 912.1,983.6 Z" fill="url(#embG)" stroke="#2A2A2A" stroke-width="3.4"/>
<circle cx="953.7" cy="1176.1" r="29" fill="#3A5522" stroke="#262626" stroke-width="3.4"/>

<!-- BATTERY -->
<path d="M234,1352 L355,1352 Q369,1352 369,1366 Q369,1377 376,1381 L389,1382 L389,1410 L376,1411 Q369,1415 369,1422 Q369,1435 355,1435 L234,1435 Q220,1435 220,1421 L220,1366 Q220,1352 234,1352 Z" fill="#000" opacity="0.5" filter="url(#shadow)" transform="translate(1,3)"/>
<path d="M234,1352 L355,1352 Q369,1352 369,1366 Q369,1377 376,1381 L389,1382 L389,1410 L376,1411 Q369,1415 369,1422 Q369,1435 355,1435 L234,1435 Q220,1435 220,1421 L220,1366 Q220,1352 234,1352 Z" fill="#E8E86A" stroke="#000" stroke-width="2"/>
<path d="M234,1352 L355,1352 Q369,1352 369,1366 Q369,1377 376,1381 L389,1382 L389,1410 L376,1411 Q369,1415 369,1422 Q369,1435 355,1435 L234,1435 Q220,1435 220,1421 L220,1366 Q220,1352 234,1352 Z" fill="none" stroke="#8A8800" stroke-width="2" transform="translate(304.5 1393.5) scale(0.975 0.955) translate(-304.5 -1393.5)"/>
<path d="M252.1,1386.8 L285.6,1396.3 L287.3,1368.3 L340.6,1401 L300.6,1390.7 L300.2,1419.5 Z" fill="#000"/>

<!-- TEXTS -->
<text x="1187.99" y="329" font-size="309" fill="#7030A0" textLength="625.05" lengthAdjust="spacingAndGlyphs">seed</text>
<text x="857.9" y="839" font-size="69" fill="#000" textLength="153.1" lengthAdjust="spacingAndGlyphs">plant</text>
<text x="817.21" y="929.4" font-size="69" fill="#000" textLength="234.26" lengthAdjust="spacingAndGlyphs">embryo</text>
<text x="166.63" y="1233" font-size="69" fill="#000" textLength="274.47" lengthAdjust="spacingAndGlyphs">nutrients</text>
<text x="132.66" y="1323" font-size="69" fill="#000" textLength="113.2" lengthAdjust="spacingAndGlyphs">and</text>
<text x="264.7" y="1323" font-size="69" fill="#7030A0" font-weight="bold" textLength="211.09" lengthAdjust="spacingAndGlyphs">energy</text>
<text x="254.04" y="1890" font-size="68.5" fill="#000" textLength="285.96" lengthAdjust="spacingAndGlyphs">hard coat</text>
<text x="853.7" y="1870.5" font-size="69" fill="#7030A0" font-weight="bold" textLength="146.01" lengthAdjust="spacingAndGlyphs">seed</text>
<text x="2325.09" y="1193" font-size="69" fill="#7030A0" font-weight="bold" textLength="260.21" lengthAdjust="spacingAndGlyphs">seedling</text>
<text x="2448.45" y="1970.5" font-size="69" fill="#000" textLength="128.53" lengthAdjust="spacingAndGlyphs">root</text>
<text x="32.0" y="2228" font-size="38.5" fill="#000" textLength="2118.6" lengthAdjust="spacingAndGlyphs">[CC BY-SA 4.0] Stephen Fleenor/Seidlitz Education For image attribution, see www.thevisualnonglossary.com/att.html#S3072</text>
<text x="2257.0" y="2169.5" font-size="38.5" fill="#000" textLength="715.0" lengthAdjust="spacingAndGlyphs">*Credit: Hugowolf/Wikimedia Commons</text>
<text x="2266.0" y="2221" font-size="38.5" fill="#000" textLength="706.0" lengthAdjust="spacingAndGlyphs">**Credit: Dbxsoul/Wikimedia Commons</text>
<g stroke="#000" stroke-width="3.4" stroke-linecap="butt"><path d="M1088.0,1503.0 L1088.0,1523.8"/><path d="M1079.7,1507.7 L1096.3,1519.1"/><path d="M1079.7,1519.1 L1096.3,1507.7"/></g><g stroke="#000" stroke-width="3.4" stroke-linecap="butt"><path d="M2472.1,706.0 L2472.1,726.8"/><path d="M2463.8,710.7 L2480.4,722.1"/><path d="M2463.8,722.1 L2480.4,710.7"/></g><g stroke="#000" stroke-width="3.4" stroke-linecap="butt"><path d="M2501.0,706.0 L2501.0,726.8"/><path d="M2492.7,710.7 L2509.3,722.1"/><path d="M2492.7,722.1 L2509.3,710.7"/></g>
<!-- BORDER -->
<rect x="0" y="0" width="2.8" height="2250" fill="#000"/><rect x="0" y="0" width="3000" height="2" fill="#000"/><rect x="2998.9" y="0" width="1.1" height="2250" fill="#000"/><rect x="0" y="2247.9" width="3000" height="2.1" fill="#000"/>
</svg>
</body></html>
